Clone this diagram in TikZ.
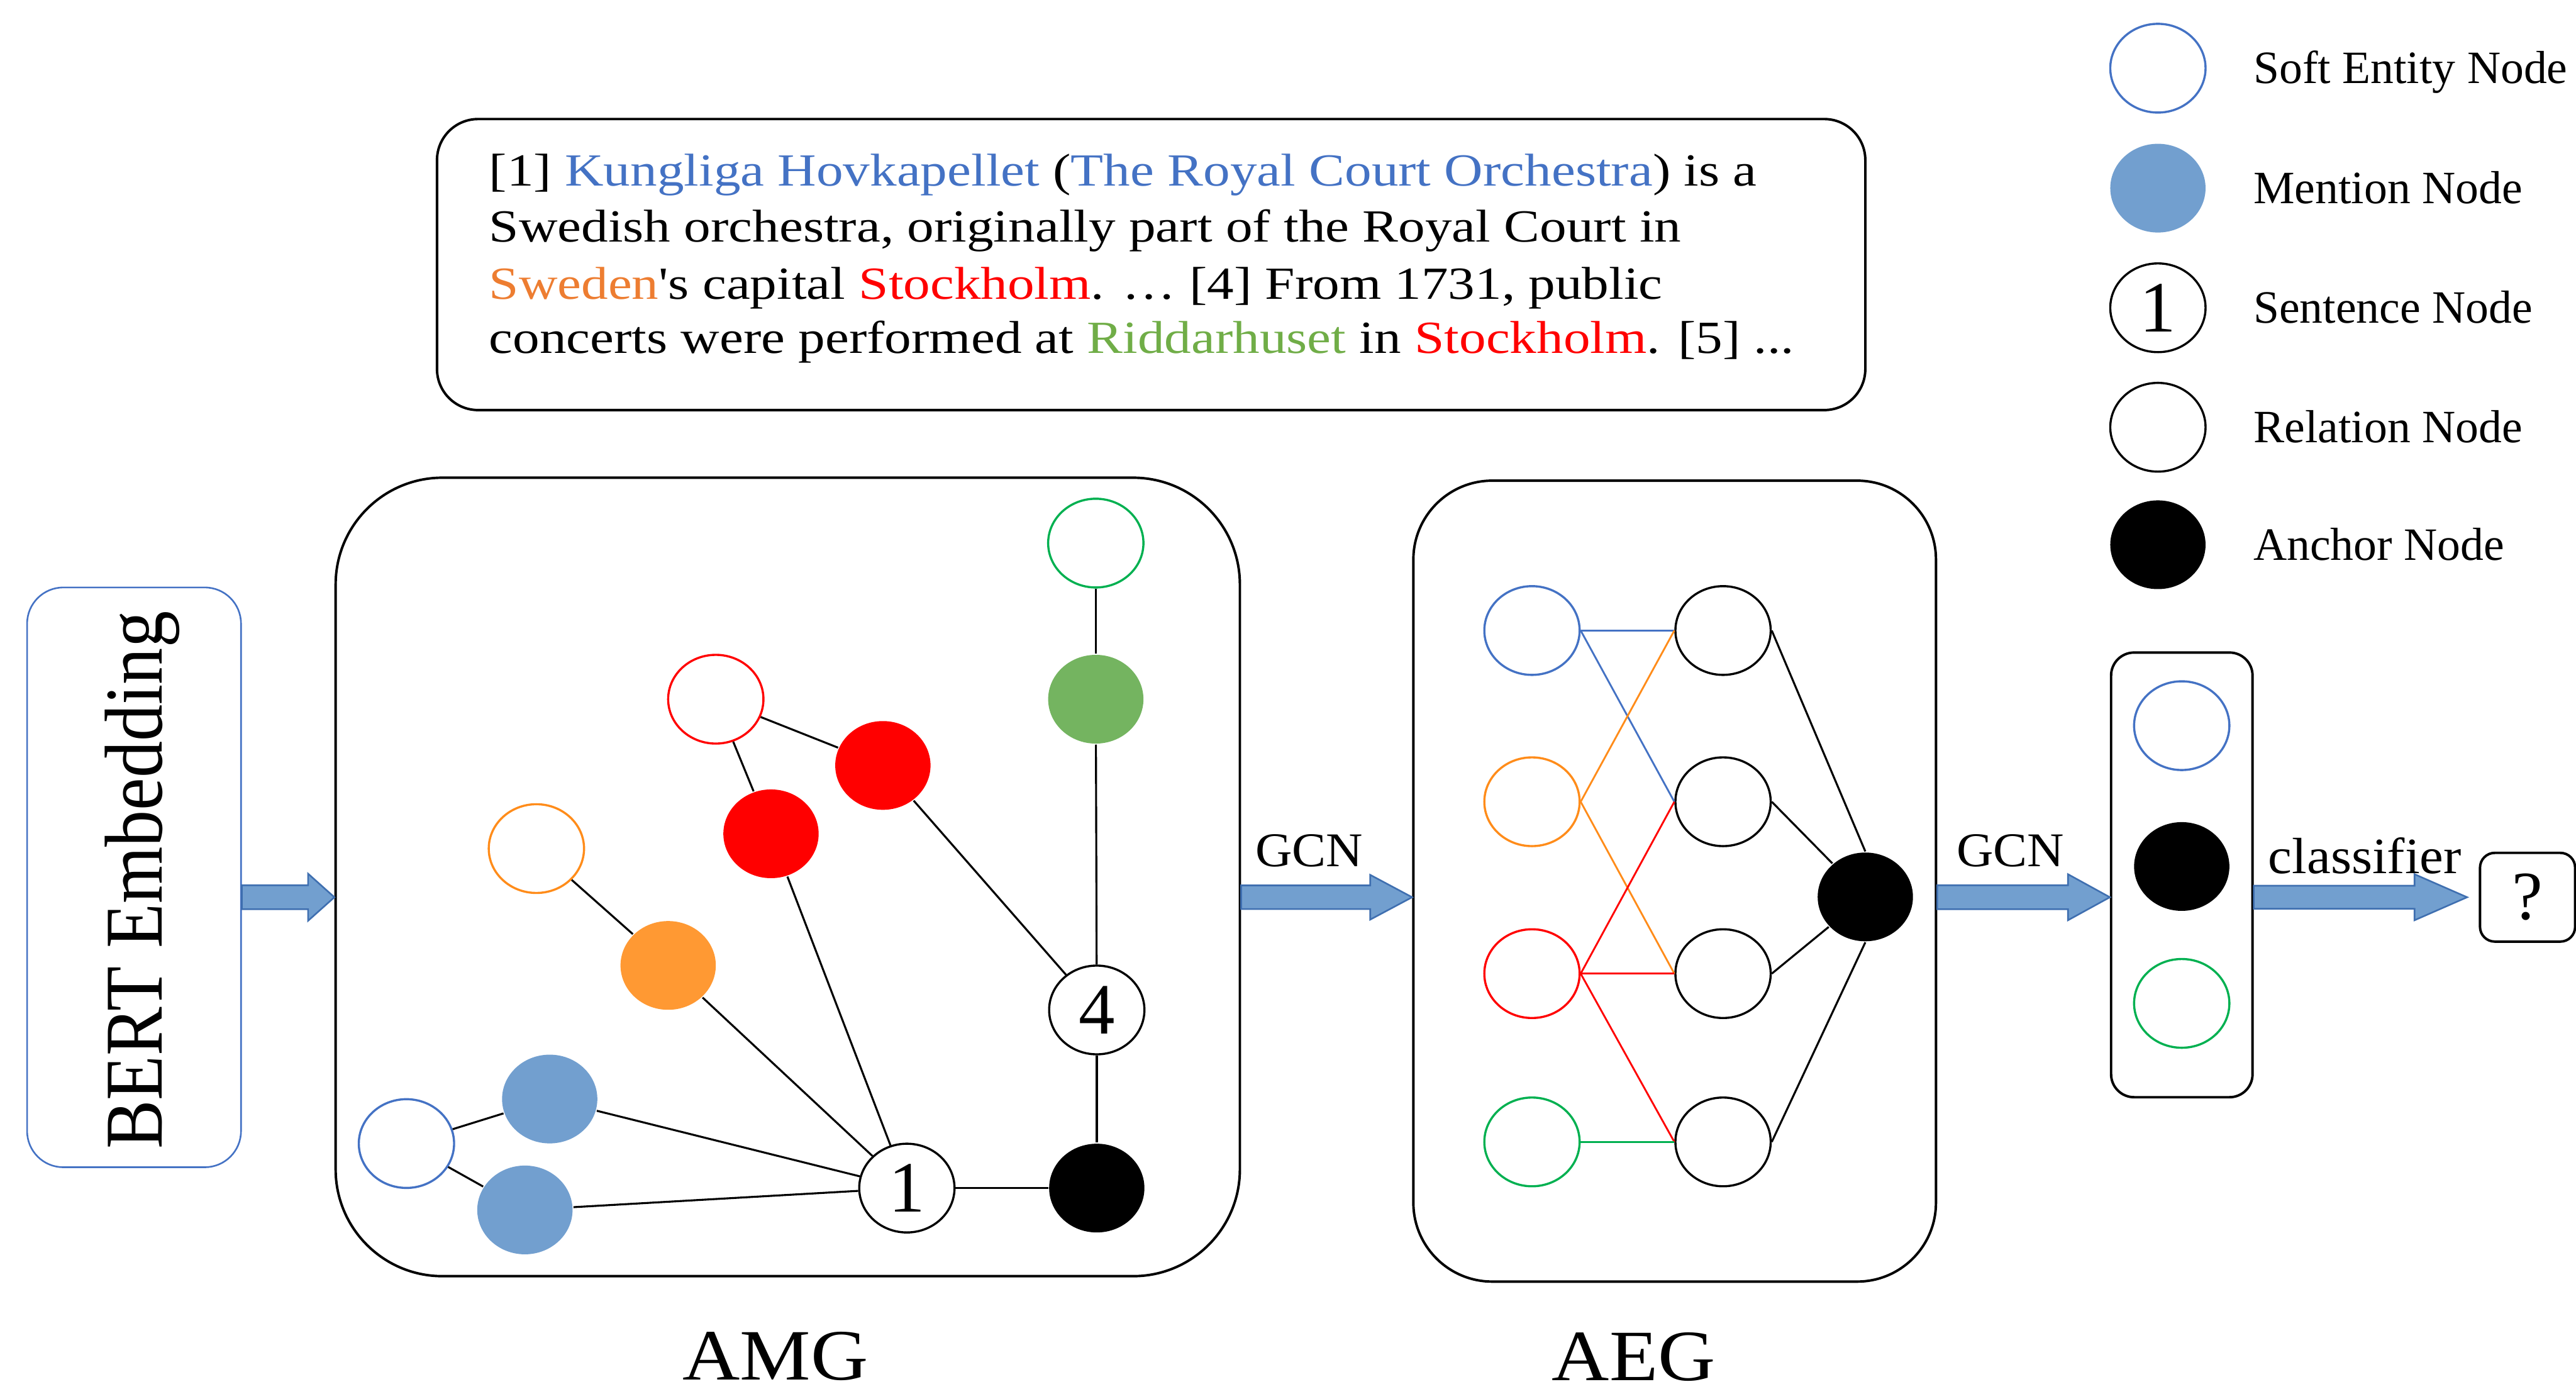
\documentclass[tikz,border=0pt]{standalone}
\usepackage{fontspec}
\setmainfont{Liberation Serif}
\newfontfamily\tbfont{Liberation Serif}[FakeStretch=1.165]
\newfontfamily\widefont{Liberation Serif}[FakeStretch=1.1]
\newfontfamily\lblfont{Liberation Serif}[FakeStretch=1.05]
\newfontfamily\bertfont{Liberation Serif}[FakeStretch=0.89]
\usetikzlibrary{shapes.geometric,calc}

\definecolor{entblue}{HTML}{4472C4}
\definecolor{menblue}{HTML}{729FCF}
\definecolor{engreen}{HTML}{00B050}
\definecolor{mgreen}{HTML}{74B460}
\definecolor{enorange}{HTML}{FF8C1A}
\definecolor{morange}{HTML}{FF9933}
\definecolor{txorange}{HTML}{ED7D31}
\definecolor{txgreen}{HTML}{70AD47}
\definecolor{arrfill}{HTML}{729FCF}
\definecolor{arrdraw}{HTML}{3F6FB0}

\tikzset{
 nd/.style={ellipse, minimum width=58pt, minimum height=54pt, inner sep=0pt, line width=1.3pt},
 ent/.style={nd, draw=#1, fill=white},
 men/.style={nd, fill=#1},
 sent/.style={nd, draw=black, fill=white, font=\fontsize{44}{44}\selectfont},
 rel/.style={nd, draw=black, fill=white},
 anc/.style={nd, fill=black},
 edge/.style={line width=1.2pt},
 cedge/.style={line width=1.1pt, draw=#1},
 panel/.style={draw, line width=1.5pt, inner sep=0pt},
 barrow/.style={fill=arrfill, draw=arrdraw, line width=1pt, line join=miter},
 lgtext/.style={anchor=base west, font=\fontsize{28.2}{30}\selectfont, inner sep=0pt},
 bxtext/.style={anchor=base west, font=\tbfont\fontsize{28}{34}\selectfont, inner sep=0pt},
 arrlbl/.style={anchor=base, inner sep=0pt},
}

\newcommand\blockarr[5]{\path[barrow] let \p1=(#1), \p2=(#2) in
  (\x1,\y1+#3pt) -- (\x2-#5pt,\y1+#3pt) -- (\x2-#5pt,\y1+#4pt) -- (\x2,\y1)
  -- (\x2-#5pt,\y1-#4pt) -- (\x2-#5pt,\y1-#3pt) -- (\x1,\y1-#3pt) -- cycle;}

\begin{document}
\begin{tikzpicture}[x=1pt,y=-1pt]
\useasboundingbox (0,0) rectangle (1568,848);

% ---------- legend ----------
\node[ent=entblue] (lg1) at (1313.5,41.5) {};
\node[men=menblue] (lg2) at (1313.5,114.5) {};
\node[sent] (lg3) at (1313.5,187.3) {1};
\node[rel] (lg4) at (1313.5,260) {};
\node[anc] (lg5) at (1313.5,331.5) {};
\node[lgtext] (lt1) at (1371.5,50.8) {Soft Entity Node};
\node[lgtext] (lt2) at (1371.5,123.8) {Mention Node};
\node[lgtext] (lt3) at (1371.5,196.6) {Sentence Node};
\node[lgtext] (lt4) at (1371.5,269.3) {Relation Node};
\node[lgtext] (lt5) at (1371.5,340.8) {Anchor Node};

% ---------- text box ----------
\node[panel, rounded corners=25pt, minimum width=869.4pt, minimum height=177.1pt] (tbox) at (700.7,161) {};
\node[bxtext] (t1) at (297.5,113) {[1] \textcolor{entblue}{Kungliga Hovkapellet} (\textcolor{entblue}{The Royal Court Orchestra}) is a};
\node[bxtext] (t2) at (297.5,147.1) {Swedish orchestra, originally part of the Royal Court in};
\node[bxtext] (t3) at (297.5,181.9) {\textcolor{txorange}{Sweden}'s capital \textcolor{red}{Stockholm}. … [4] From 1731, public};
\node[bxtext] (t4) at (297.5,214.8) {concerts were performed at \textcolor{txgreen}{Riddarhuset} in \textcolor{red}{Stockholm}. [5] ...};

% ---------- panels ----------
\node[draw=entblue, line width=1pt, rounded corners=22pt, minimum width=130.2pt, minimum height=352.8pt, inner sep=0pt] (bert) at (81.6,533.9) {};
\node[rotate=90, anchor=base, inner sep=0pt, font=\bertfont\fontsize{50}{50}\selectfont] (berttxt) at (98.7,535.7) {BERT Embedding};
\node[panel, rounded corners=65pt, minimum width=550.4pt, minimum height=485.9pt] (amg) at (479.5,533.65) {};
\node[panel, rounded corners=48pt, minimum width=318.1pt, minimum height=487.4pt] (aeg) at (1019.35,536.2) {};
\node[panel, rounded corners=14pt, minimum width=86.1pt, minimum height=270.6pt] (out) at (1328.05,532.4) {};
\node[panel, rounded corners=9pt, minimum width=57.9pt, minimum height=54pt, font=\fontsize{42}{42}\selectfont] (qbox) at (1538.5,546) {?};

\node[arrlbl, text depth=0pt, font=\widefont\fontsize{44}{44}\selectfont] (amglbl) at (472,839.5) {AMG};
\node[arrlbl, text depth=0pt, font=\widefont\fontsize{44}{44}\selectfont] (aeglbl) at (994.4,840) {AEG};

% ---------- block arrows ----------
\coordinate (mid) at (0,546);
\blockarr{bert.east |- mid}{amg.west |- mid}{7.3}{14.3}{16}
\blockarr{amg.east |- mid}{aeg.west |- mid}{7.2}{13.6}{25.5}
\blockarr{aeg.east |- mid}{out.west |- mid}{7.3}{14}{25.5}
\coordinate (ctip) at (1501.7,546);
\blockarr{out.east |- mid}{ctip}{7}{14}{32}
\node[arrlbl, font=\lblfont\fontsize{29.5}{30}\selectfont] (gcn1) at (797,527.5) {GCN};
\node[arrlbl, font=\lblfont\fontsize{29.5}{30}\selectfont] (gcn2) at (1223.8,527.5) {GCN};
\node[arrlbl, font=\lblfont\fontsize{31}{31}\selectfont] (cls) at (1439.5,531.5) {classifier};

% ---------- AMG graph ----------
\node[ent=engreen] (g0) at (667,330.5) {};
\node[men=mgreen] (g1) at (667,425.5) {};
\node[ent=red] (r0) at (435.7,425.5) {};
\node[men=red] (r1) at (537.4,465.8) {};
\node[men=red] (r2) at (469.3,507.4) {};
\node[ent=enorange] (o0) at (326.5,516.4) {};
\node[men=morange] (o1) at (406.7,587.5) {};
\node[sent] (s4) at (667.6,614.6) {4};
\node[ent=entblue] (b0) at (247.4,695.9) {};
\node[men=menblue] (b1) at (334.6,668.8) {};
\node[men=menblue] (b2) at (319.5,736.3) {};
\node[sent] (s1) at (552,723) {1};
\node[anc] (an) at (667.6,723) {};

\draw[edge] (g0) -- (g1);
\draw[edge] (g1) -- (s4);
\draw[edge] (s4) -- (an);
\draw[edge] (s1) -- (an);
\draw[edge] (r0) -- (r1);
\draw[edge] (r0) -- (r2);
\draw[edge] (r1) -- (s4);
\draw[edge] (r2) -- (s1);
\draw[edge] (o0) -- (o1);
\draw[edge] (o1) -- (s1);
\draw[edge] (b0) -- (b1);
\draw[edge] (b0) -- (b2);
\draw[edge] (b1) -- (s1);
\draw[edge] (b2) -- (s1);

% ---------- AEG graph ----------
\node[ent=entblue] (e1) at (932.5,383.7) {};
\node[ent=enorange] (e2) at (932.5,487.9) {};
\node[ent=red] (e3) at (932.5,592.5) {};
\node[ent=engreen] (e4) at (932.5,694.9) {};
\node[rel] (q1) at (1048.8,383.7) {};
\node[rel] (q2) at (1048.8,487.9) {};
\node[rel] (q3) at (1048.8,592.5) {};
\node[rel] (q4) at (1048.8,694.9) {};
\node[anc] (aa) at (1135.4,545.8) {};

\draw[cedge=entblue] (e1.east) -- (q1.west);
\draw[cedge=entblue] (e1.east) -- (q2.west);
\draw[cedge=enorange] (e2.east) -- (q1.west);
\draw[cedge=enorange] (e2.east) -- (q3.west);
\draw[cedge=red] (e3.east) -- (q2.west);
\draw[cedge=red] (e3.east) -- (q3.west);
\draw[cedge=red] (e3.east) -- (q4.west);
\draw[cedge=engreen] (e4.east) -- (q4.west);
\draw[edge] (q1.east) -- (aa.north);
\draw[edge] (q2.east) -- (aa);
\draw[edge] (q3.east) -- (aa);
\draw[edge] (q4.east) -- (aa.south);

% ---------- output column ----------
\node[ent=entblue] (o1n) at (1328,441.6) {};
\node[anc] (o2n) at (1328,527.3) {};
\node[ent=engreen] (o3n) at (1328,610.6) {};
\end{tikzpicture}
\end{document}
